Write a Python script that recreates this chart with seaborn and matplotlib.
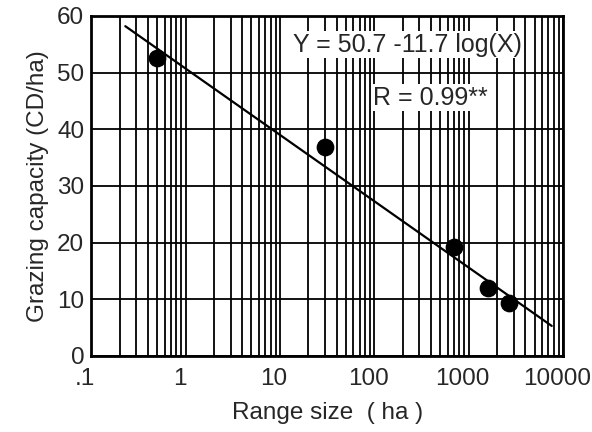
import matplotlib
matplotlib.use("Agg")
import matplotlib.pyplot as plt
import matplotlib.transforms as mtransforms
import seaborn as sns
import pandas as pd
from matplotlib.ticker import FixedLocator, LogLocator, NullFormatter

# observed points
range_size = [0.5, 30, 700, 1600, 2700]
grazing_cap = [52.6, 36.9, 19.2, 12.0, 9.3]

# fitted line Y = 50.7 - 11.7 log(X), endpoints
fit_x = [0.23, 7600]
fit_y = [58.2, 5.3]

xticks = [0.1, 1, 10, 100, 1000, 10000]
xticklabels = ['.1', '1', '10', '100', '1000', '10000']
yticks = [0, 10, 20, 30, 40, 50, 60]

pts = pd.DataFrame({'x': range_size, 'y': grazing_cap})
fit = pd.DataFrame({'x': fit_x, 'y': fit_y})

sns.set_style('white')
plt.rcParams['font.family'] = ['Liberation Sans', 'DejaVu Sans']

fig = plt.figure(figsize=(5.92, 4.32), dpi=100)
ax = fig.add_axes([0.154, 0.176, 0.797, 0.787])

ax.set_xscale('log')
ax.set_xlim(0.1, 10000)
ax.set_ylim(0, 60)

# grid: every minor decade line plus majors
ax.xaxis.set_major_locator(FixedLocator(xticks))
ax.xaxis.set_minor_locator(LogLocator(base=10, subs=range(2, 10)))
ax.xaxis.set_minor_formatter(NullFormatter())
ax.set_xticks(xticks)
ax.set_xticklabels(xticklabels)
ax.set_yticks(yticks)
ax.grid(which='both', axis='x', color='black', linewidth=1.3)
ax.grid(which='major', axis='y', color='black', linewidth=1.3)
ax.set_axisbelow(True)

sns.lineplot(data=fit, x='x', y='y', ax=ax, color='black', linewidth=1.6, zorder=3)
sns.scatterplot(data=pts, x='x', y='y', ax=ax, color='black', s=140,
                edgecolor='black', zorder=4)

for s in ax.spines.values():
    s.set_color('black')
    s.set_linewidth(2)

ax.tick_params(axis='both', which='both', length=0, labelsize=17.5)
ax.tick_params(axis='x', pad=9)
ax.tick_params(axis='y', pad=5)

# tick labels sit a little left of their grid lines in the original
shift = mtransforms.ScaledTranslation(-6 / 100, 0, fig.dpi_scale_trans)
for lab in ax.get_xticklabels():
    lab.set_transform(lab.get_transform() + shift)

ax.set_xlabel('Range size  ( ha )', fontsize=17.5, labelpad=8)
ax.set_ylabel('Grazing capacity (CD/ha)', fontsize=17.5, labelpad=6)

ax.text(0.428, 0.915, 'Y = 50.7 -11.7 log(X)', transform=ax.transAxes,
        fontsize=18, ha='left', va='center', zorder=5,
        bbox=dict(facecolor='white', edgecolor='none', pad=1))
ax.text(0.597, 0.76, 'R = 0.99**', transform=ax.transAxes,
        fontsize=18, ha='left', va='center', zorder=5,
        bbox=dict(facecolor='white', edgecolor='none', pad=1))

fig.savefig('out.png', dpi=100)
